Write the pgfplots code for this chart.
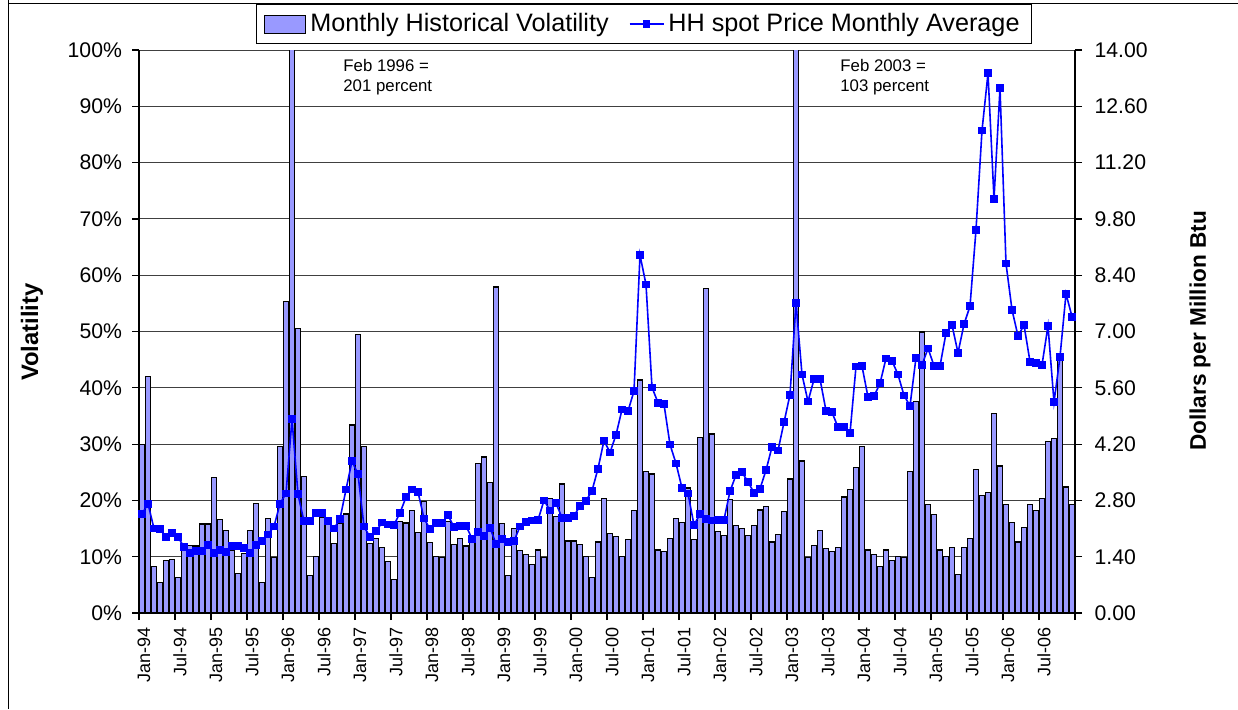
\documentclass[border=0pt]{standalone}
\usepackage{fontspec}
\setmainfont{Liberation Sans}
\usepackage{pgfplots}
\pgfplotsset{compat=1.18}
\usepackage{pgfplotstable}
\definecolor{barfill}{HTML}{9999FF}
\definecolor{lineblue}{HTML}{0000FF}

\pgfplotstableread{
vol price
29.9 2.46
42.0 2.72
8.2 2.10
5.4 2.08
9.3 1.90
9.5 1.98
6.3 1.89
12.2 1.64
12.0 1.50
11.9 1.55
15.8 1.55
15.8 1.69
24.0 1.50
16.6 1.57
14.7 1.52
11.2 1.66
7.0 1.66
10.6 1.62
14.7 1.50
19.4 1.70
5.4 1.80
16.8 1.95
9.9 2.15
29.6 2.72
55.3 2.97
201 4.82
50.6 2.95
24.2 2.28
6.6 2.28
10.1 2.49
17.0 2.49
16.8 2.28
12.4 2.10
15.9 2.34
17.6 3.07
33.4 3.78
49.5 3.45
29.6 2.15
12.3 1.89
13.2 2.03
11.6 2.25
9.2 2.20
5.9 2.19
16.3 2.49
16.0 2.88
18.2 3.07
14.3 3.01
19.8 2.35
12.5 2.09
10.1 2.23
9.9 2.24
16.3 2.43
12.2 2.14
13.2 2.17
11.9 2.17
13.0 1.85
26.5 2.02
27.7 1.91
23.2 2.12
57.9 1.72
15.9 1.85
6.6 1.77
15.0 1.79
11.1 2.15
10.4 2.26
8.6 2.30
11.2 2.31
9.9 2.80
20.4 2.55
17.2 2.73
22.9 2.37
12.8 2.36
12.8 2.42
12.2 2.66
10.1 2.79
6.3 3.04
12.6 3.59
20.4 4.29
14.1 3.99
13.6 4.43
10.1 5.06
13.0 5.02
18.2 5.52
41.4 8.90
25.1 8.17
24.7 5.61
11.2 5.23
10.9 5.19
13.3 4.19
16.8 3.72
16.1 3.11
22.2 2.97
13.1 2.19
31.2 2.46
57.6 2.34
31.8 2.30
14.5 2.32
13.7 2.32
20.1 3.03
15.6 3.43
15.0 3.50
13.7 3.26
15.6 2.99
18.3 3.09
18.9 3.55
12.6 4.13
13.9 4.04
18.0 4.74
23.8 5.43
103 7.71
27.0 5.93
9.9 5.26
12.0 5.81
14.7 5.82
11.4 5.03
10.9 4.99
11.7 4.62
20.6 4.63
22.0 4.47
25.9 6.13
29.6 6.14
11.2 5.37
10.4 5.39
8.2 5.71
11.2 6.33
9.3 6.27
10.1 5.93
9.8 5.41
25.1 5.15
37.6 6.35
49.9 6.17
19.3 6.58
17.5 6.15
11.2 6.14
10.1 6.96
11.7 7.16
6.8 6.47
11.7 7.18
13.3 7.63
25.5 9.53
20.9 12.00
21.4 13.42
35.4 10.30
26.1 13.05
19.3 8.69
16.1 7.54
12.6 6.89
15.2 7.16
19.3 6.25
18.2 6.21
20.4 6.17
30.5 7.14
31.0 5.24
45.6 6.37
22.4 7.94
19.3 7.37
}\datatable

\begin{document}
\begin{tikzpicture}
\path[use as bounding box] (0pt,0pt) rectangle (619pt,-354.5pt);
\draw[black, line width=0.5pt] (4pt,0pt) -- (4pt,-354.5pt);
\draw[black, line width=0.5pt] (4pt,-1.5pt) -- (619pt,-1.5pt);

\begin{axis}[
  at={(69.5pt,-306.5pt)}, anchor=south west,
  scale only axis, width=468pt, height=281.5pt,
  xmin=0, xmax=156, ymin=0, ymax=100,
  axis x line*=bottom, axis y line*=left,
  axis line style={black, line width=0.7pt},
  xtick={0,6,...,156},
  xticklabels={Jan-94,Jul-94,Jan-95,Jul-95,Jan-96,Jul-96,Jan-97,Jul-97,Jan-98,Jul-98,Jan-99,Jul-99,Jan-00,Jul-00,Jan-01,Jul-01,Jan-02,Jul-02,Jan-03,Jul-03,Jan-04,Jul-04,Jan-05,Jul-05,Jan-06,Jul-06,{}},
  xticklabel style={rotate=90, anchor=east, yshift=-2.5pt, font=\fontsize{9}{10}\selectfont},
  ytick={0,10,...,100},
  yticklabels={0\%,10\%,20\%,30\%,40\%,50\%,60\%,70\%,80\%,90\%,100\%},
  yticklabel style={xshift=-1.5pt, font=\fontsize{10.6}{12}\selectfont},
  ymajorgrids, grid style={black!75, line width=0.45pt},
  tick align=outside, major tick length=3.5pt,
  tick style={black, line width=0.6pt},
]
\addplot[ybar, bar width=0.82, fill=barfill, draw=black, line width=0.6pt]
  table[x expr=\coordindex+0.5, y=vol] {\datatable};
\end{axis}

\begin{axis}[
  at={(69.5pt,-306.5pt)}, anchor=south west,
  scale only axis, width=468pt, height=281.5pt,
  xmin=0, xmax=156, ymin=0, ymax=14,
  axis x line=none, axis y line*=right,
  axis line style={black, line width=0.7pt},
  ytick={0,1.4,2.8,4.2,5.6,7,8.4,9.8,11.2,12.6,14},
  yticklabels={0.00,1.40,2.80,4.20,5.60,7.00,8.40,9.80,11.20,12.60,14.00},
  yticklabel style={anchor=west, xshift=2.75pt, font=\fontsize{10.6}{12}\selectfont},
  tick align=outside, major tick length=3.5pt,
  tick style={black, line width=0.6pt},
  legend columns=2,
  legend cell align=left,
  legend style={at={(0.5395,1.046)}, anchor=center, draw=black, line width=0.5pt,
    font=\fontsize{12.6}{14}\selectfont, inner xsep=4pt, inner ysep=2.5pt,
    /tikz/every even column/.append style={column sep=8pt}},
]
\addlegendimage{legend image code/.code={\draw[fill=barfill,draw=black,line width=0.5pt] (0pt,-4.5pt) rectangle (20.5pt,4.5pt);}}
\addlegendentry{Monthly Historical Volatility}
\addplot[lineblue, line width=0.8pt, mark=square*, mark size=1.55pt, mark options={solid, fill=lineblue}]
  table[x expr=\coordindex+0.5, y=price] {\datatable};
\addlegendentry{HH spot Price Monthly Average}
\end{axis}

\node[anchor=west, inner sep=0pt, font=\fontsize{8.4}{10}\selectfont] at (171.5pt,-32.5pt) {Feb 1996 =};
\node[anchor=west, inner sep=0pt, font=\fontsize{8.4}{10}\selectfont] at (171.5pt,-43.5pt) {201 percent};
\node[anchor=west, inner sep=0pt, font=\fontsize{8.4}{10}\selectfont] at (420pt,-32.5pt) {Feb 2003 =};
\node[anchor=west, inner sep=0pt, font=\fontsize{8.4}{10}\selectfont] at (420pt,-43.5pt) {103 percent};
\node[rotate=90, font=\bfseries\fontsize{11.9}{14}\selectfont] at (16pt,-166pt) {Volatility};
\node[rotate=90, font=\bfseries\fontsize{11.3}{13}\selectfont] at (600pt,-165.5pt) {Dollars per Million Btu};
\end{tikzpicture}
\end{document}
